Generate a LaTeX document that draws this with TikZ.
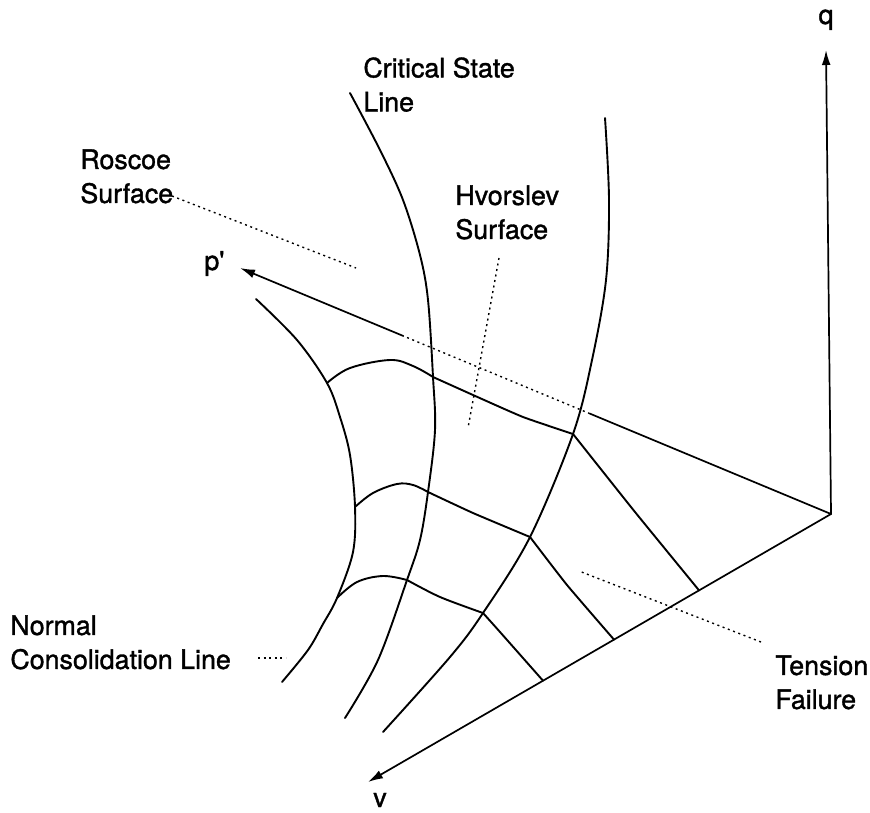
\documentclass[tikz,border=0pt]{standalone}
\usepackage{fontspec}
\setmainfont{TeX Gyre Heros}
\newfontfamily\lblfont{TeX Gyre Heros}[UprightFeatures={FakeBold=1.3}]
\usetikzlibrary{arrows.meta,calc}
\begin{document}
\begin{tikzpicture}[x=0.5pt,y=-0.5pt,
  lbl/.style={anchor=north west,inner sep=0pt,align=left,font=\lblfont\fontsize{13.4}{17}\selectfont},
  axislbl/.style={inner sep=0pt,font=\lblfont\fontsize{13.4}{17}\selectfont},
  curve/.style={line width=0.95pt,line cap=round,line join=round},
  axisline/.style={line width=0.85pt,line cap=round},
  axisarrow/.style={axisline,-{Latex[length=7.5pt,width=4.4pt]}},
  leader/.style={line width=0.7pt,dash pattern=on 1pt off 1.8pt},
]
\useasboundingbox (0,0) rectangle (870,812);

% axes
\coordinate (O) at (831,514);
\coordinate (Qtip) at (826,50);
\coordinate (Ptip) at (240,268);
\coordinate (Vtip) at (368,782);
\coordinate (A1) at ($(Ptip)!0.276!(O)$);
\coordinate (A2) at ($(Ptip)!0.592!(O)$);
\coordinate (T1) at ($(O)!0.285!(Vtip)$);
\coordinate (T2) at ($(O)!0.4687!(Vtip)$);
\coordinate (T3) at ($(O)!0.622!(Vtip)$);

\draw[axisarrow] (O) -- (Qtip);
\draw[axisarrow] (O) -- (Vtip);
\draw[axisline] (O) -- (A2);
\draw[leader] (A2) -- (A1);
\draw[axisarrow] (A1) -- (Ptip);

\node[axislbl,anchor=base] (q) at (826,24) {q};
\node[axislbl,anchor=base west] (p) at (204,270) {p'};
\node[axislbl,anchor=base] (v) at (380,807) {v};

% grid points
\coordinate (N1) at (327,383);
\coordinate (N2) at (355,507);
\coordinate (N3) at (337,598);
\coordinate (C1) at (433,377);
\coordinate (C2) at (428,492);
\coordinate (C3) at (407,580);
\coordinate (R1) at (573,434);
\coordinate (R2) at (530,537);
\coordinate (R3) at (483,613);

% Normal consolidation line
\draw[curve] plot[smooth,tension=0.55] coordinates {(256,299) (297,340) (N1) (340,417) (350,455) (N2) (353,552) (N3) (323,624) (308,650) (282,682)};
% Critical state line
\draw[curve] plot[smooth,tension=0.55] coordinates {(350,93) (380,150) (403,200) (420,255) (428,300) (C1) (435,430) (C2) (420,540) (C3) (378,660) (345,718)};
% right boundary curve
\draw[curve] plot[smooth,tension=0.55] coordinates {(605,118) (609,200) (606,280) (592,360) (R1) (R2) (R3) (450,657) (383,732)};

% cross lines
\draw[curve] plot[smooth,tension=0.6] coordinates {(N1) (350,368) (390,360) (413,366) (C1)};
\draw[curve] plot[smooth,tension=0.3] coordinates {(C1) (473,395) (523,417) (R1)};
\draw[curve] plot[smooth,tension=0.3] coordinates {(R1) (635,512) (T1)};

\draw[curve] plot[smooth,tension=0.6] coordinates {(N2) (373,493) (397,484) (413,485) (C2)};
\draw[curve] plot[smooth,tension=0.3] coordinates {(C2) (473,513) (R2)};
\draw[curve] plot[smooth,tension=0.3] coordinates {(R2) (567,585) (T2)};

\draw[curve] plot[smooth,tension=0.6] coordinates {(N3) (357,582) (383,576) (C3)};
\draw[curve] plot[smooth,tension=0.5] coordinates {(C3) (440,597) (R3)};
\draw[curve] plot[smooth,tension=0.4] coordinates {(R3) (500,632) (T3)};

% labels
\node[lbl] (csl) at (363,57) {Critical State\\Line};
\node[lbl] (ros) at (80,149) {Roscoe\\Surface};
\node[lbl] (hvo) at (455,185) {Hvorslev\\Surface};
\node[lbl] (ncl) at (10,615) {Normal\\Consolidation Line};
\node[lbl] (ten) at (775,655) {Tension\\Failure};

% leaders
\coordinate (rosA) at (172,196);
\coordinate (rosB) at (356,268);
\coordinate (hvoA) at (499,258);
\coordinate (hvoB) at (468,428);
\coordinate (tenA) at (761,642);
\coordinate (tenB) at (579,571);
\coordinate (nclA) at (258,658);
\coordinate (nclB) at (286,658);
\draw[leader] (rosA) -- (rosB);
\draw[leader] (hvoA) -- (hvoB);
\draw[leader] (tenA) -- (tenB);
\draw[leader] (nclA) -- (nclB);
\end{tikzpicture}
\end{document}
